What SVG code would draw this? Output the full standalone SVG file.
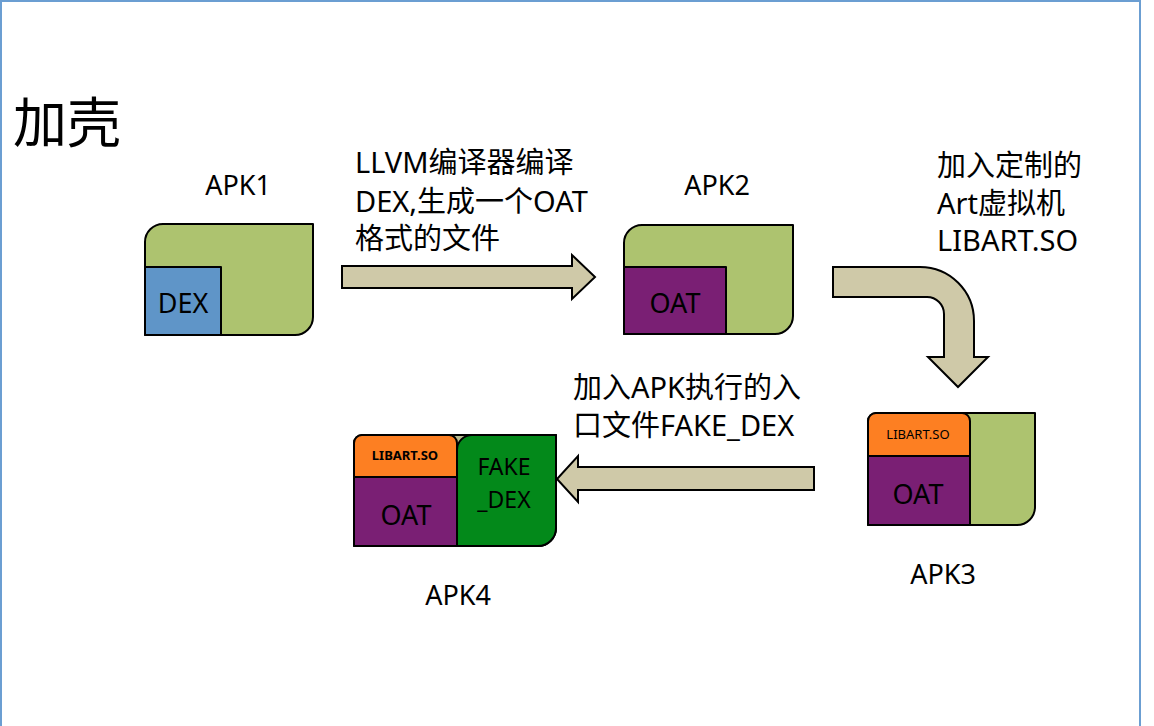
<svg xmlns="http://www.w3.org/2000/svg" width="1154" height="726" viewBox="0 0 1154 726">
<style>
text{font-family:"Noto Sans","Noto Sans CJK SC",sans-serif;fill:#000}
.sh{stroke:#000;stroke-width:2;stroke-linejoin:round}
.green{fill:#adc36f}
.blue{fill:#5f95c8}
.purple{fill:#7a1f74}
.orange{fill:#fd7f22}
.dgreen{fill:#03891a}
.arrow{fill:#cfc9a8;stroke:#000;stroke-width:2;stroke-linejoin:miter}
.lbl{font-size:27px;text-anchor:middle}
.cap{font-size:29px}
.in{font-size:27px;text-anchor:middle}
.fk{font-size:23px;text-anchor:middle}
.so{font-size:13px;text-anchor:middle}
</style>
<rect x="0" y="0" width="1154" height="726" fill="#ffffff"/>
<g id="frame" fill="none" stroke="#6b9ed2" stroke-width="2">
<path d="M1,726 L1,1 L1140,1 L1140,726"/>
</g>
<g id="title"><text x="13" y="143" style="font-size:54px">加壳</text></g>

<g id="connectors">
<path class="arrow" d="M342,266 L572,266 L572,255 L595,277 L572,299 L572,288 L342,288 Z"/>
<path class="arrow" d="M833,267 L920,267 A54,54 0 0 1 974,321 L974,357 L988,357 L958,387 L928,357 L944,357 L944,314 A17,17 0 0 0 927,297 L833,297 Z"/>
<path class="arrow" d="M814,467 L578,467 L578,456 L557,479 L578,502 L578,490 L814,490 Z"/>
</g>

<g id="label-llvm">
<text class="cap" x="355" y="173">LLVM编译器编译</text>
<text class="cap" x="355" y="212">DEX,生成一个OAT</text>
<text class="cap" x="355" y="249">格式的文件</text>
</g>
<g id="label-art">
<text class="cap" x="937" y="176">加入定制的</text>
<text class="cap" x="937" y="214">Art虚拟机</text>
<text class="cap" x="937" y="251">LIBART.SO</text>
</g>
<g id="label-fake">
<text class="cap" x="573" y="398">加入APK执行的入</text>
<text class="cap" x="573" y="436">口文件FAKE_DEX</text>
</g>

<g id="apk1">
<text class="lbl" x="238" y="195">APK1</text>
<path class="sh green" d="M145,242 A18,18 0 0 1 163,224 L313,224 L313,317 A18,18 0 0 1 295,335 L145,335 Z"/>
<rect class="sh blue" x="145" y="267" width="76" height="68"/>
<text class="in" x="183" y="313">DEX</text>
</g>

<g id="apk2">
<text class="lbl" x="717" y="195">APK2</text>
<path class="sh green" d="M624,243 A18,18 0 0 1 642,225 L793,225 L793,316 A18,18 0 0 1 775,334 L624,334 Z"/>
<rect class="sh purple" x="624" y="267" width="102" height="67"/>
<text class="in" x="675" y="313">OAT</text>
</g>

<g id="apk3">
<path class="sh green" d="M868,421 A8,8 0 0 1 876,413 L1035,413 L1035,507 A18,18 0 0 1 1017,525 L868,525 Z"/>
<path class="sh orange" d="M868,456 L868,421 A8,8 0 0 1 876,413 L962,413 A8,8 0 0 1 970,421 L970,456 Z"/>
<rect class="sh purple" x="868" y="456" width="102" height="69"/>
<text class="so" x="918" y="439">LIBART.SO</text>
<text class="in" x="918" y="504">OAT</text>
<text class="lbl" x="943" y="584">APK3</text>
</g>

<g id="apk4">
<path class="sh" fill="#b8bb8f" d="M354,443 A8,8 0 0 1 362,435 L556,435 L556,528 A18,18 0 0 1 538,546 L354,546 Z"/>
<path class="sh orange" d="M354,477 L354,443 A8,8 0 0 1 362,435 L449,435 A8,8 0 0 1 457,443 L457,477 Z"/>
<rect class="sh purple" x="354" y="477" width="103" height="69"/>
<path class="sh dgreen" d="M457,546 L457,450 A15,15 0 0 1 472,435 L556,435 L556,528 A18,18 0 0 1 538,546 Z"/>
<text class="so" x="405" y="460" style="font-weight:bold">LIBART.SO</text>
<text class="in" x="406" y="525">OAT</text>
<text class="fk" x="504" y="475">FAKE</text>
<text class="fk" x="504" y="508">_DEX</text>
<text class="lbl" x="458" y="605">APK4</text>
</g>
</svg>
